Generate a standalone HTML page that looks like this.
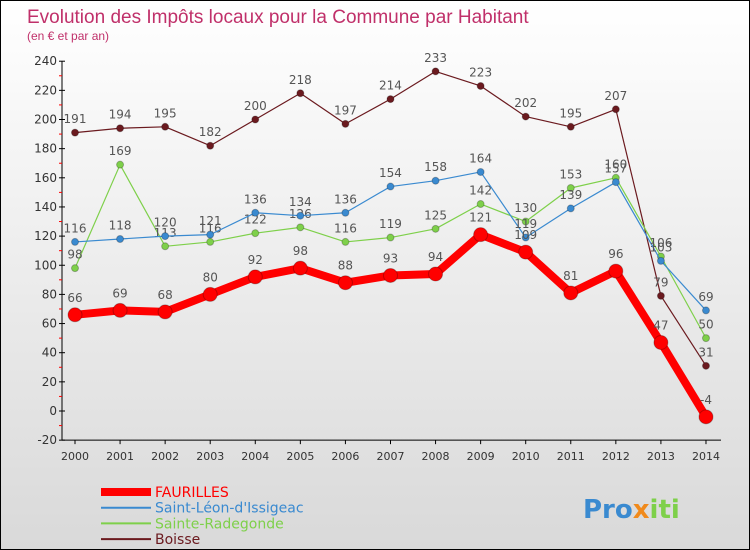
<!DOCTYPE html>
<html><head><meta charset="utf-8"><style>
body{margin:0;}
#c{width:748px;height:548px;border:1px solid #000;background:linear-gradient(#fff,#d9d9d9);position:relative;overflow:hidden;font-family:"DejaVu Sans","Liberation Sans",sans-serif;}
</style></head><body>
<div id="c">
<svg id="s" width="748" height="548"></svg>
</div>
<script>
const years=[2000,2001,2002,2003,2004,2005,2006,2007,2008,2009,2010,2011,2012,2013,2014];
const faurilles=[66,69,68,80,92,98,88,93,94,121,109,81,96,47,-4];
const saintLeon=[116,118,120,121,136,134,136,154,158,164,119,139,157,103,69];
const sainteRadegonde=[98,169,113,116,122,126,116,119,125,142,130,153,160,106,50];
const boisse=[191,194,195,182,200,218,197,214,233,223,202,195,207,79,31];
const yTicks=[-20,0,20,40,60,80,100,120,140,160,180,200,220,240];
const NS="http://www.w3.org/2000/svg";
const svg=document.getElementById('s');
function X(i){return 74+i*45.07;}
function Y(v){return 410-v*1.4575;}
function el(t,a,p){const e=document.createElementNS(NS,t);for(const k in a)e.setAttribute(k,a[k]);(p||svg).appendChild(e);return e;}
function txt(x,y,s,a){const e=el('text',Object.assign({x:x,y:y},a));e.textContent=s;return e;}
let t=txt(26,22,'Evolution des Impôts locaux pour la Commune par Habitant',{fill:'#c0306a','font-size':19,'font-family':'Liberation Sans, sans-serif'});

t=txt(26,39,'(en € et par an)',{fill:'#c0306a','font-size':12,'font-family':'Liberation Sans, sans-serif'});

let ax=el('line',{x1:61,y1:Y(240),x2:61,y2:Y(-20),stroke:'#000'});

ax=el('line',{x1:61,y1:Y(-20),x2:720,y2:Y(-20),stroke:'#000'});

yTicks.forEach((v,i)=>{el('line',{x1:58,y1:Y(v),x2:64,y2:Y(v),stroke:'#000'});
 if(i<yTicks.length-1)el('line',{x1:58,y1:Y(v+10),x2:61,y2:Y(v+10),stroke:'#f00'});
 const l=txt(56,Y(v)+4,String(v),{'text-anchor':'end','font-size':12,fill:'#333'});
 });
years.forEach((y,i)=>{el('line',{x1:X(i),y1:Y(-20),x2:X(i),y2:Y(-20)+4,stroke:'#000'});
 const l=txt(X(i),Y(-20)+20,String(y),{'text-anchor':'middle','font-size':11,fill:'#333'});
 });
function series(data,color,w,r,name){
 const g=el('g',{});
 el('polyline',{points:data.map((v,i)=>X(i)+','+Y(v)).join(' '),fill:'none',stroke:color,'stroke-width':w,'stroke-linejoin':'round'},g);
 data.forEach((v,i)=>{const c=el('circle',{cx:X(i),cy:Y(v),r:r,fill:color,stroke:'rgba(0,0,0,0.25)'},g);
  
  const l=txt(X(i),Y(v)-(r+6),String(v),{'text-anchor':'middle','font-size':12,fill:'#555'},g);
  });
}
series(boisse,'#6b1a1f',1.2,3.5,'boisse');
series(sainteRadegonde,'#7ed04a',1.2,3.5,'sainte-radegonde');
series(saintLeon,'#3a8ad0',1.2,3.5,'saint-leon');
series(faurilles,'#ff0000',8,7,'faurilles');
const legend=[['FAURILLES','#ff0000',8],["Saint-Léon-d'Issigeac",'#3a8ad0',2],['Sainte-Radegonde','#7ed04a',2],['Boisse','#6b1a1f',2]];
legend.forEach((L,i)=>{const g=el('g',{});
 const y=491+i*15.7;el('line',{x1:100,y1:y,x2:150,y2:y,stroke:L[1],'stroke-width':L[2]},g);
 txt(154,y+5,L[0],{'font-size':14,fill:L[1]},g);});
const lg=txt(582,517,'',{'font-size':26,'font-weight':'bold'});

[['Pro','#3a8ad0'],['x','#f08a1c'],['iti','#7ed04a']].forEach(p=>{const s=el('tspan',{fill:p[1]},lg);s.textContent=p[0];});
</script>
</body></html>
